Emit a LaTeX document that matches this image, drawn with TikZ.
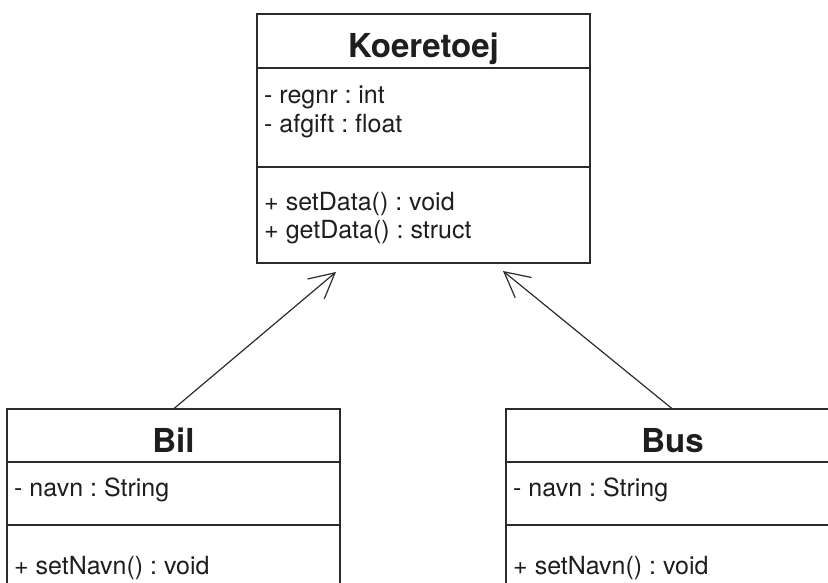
\documentclass[tikz,border=0pt]{standalone}
\usepackage{fontspec}
\setmainfont{TeX Gyre Heros}
\usetikzlibrary{arrows.meta}
\definecolor{umlline}{HTML}{2B2B2B}
\definecolor{umltext}{HTML}{1E1E1E}
\frenchspacing
\begin{document}
\begin{tikzpicture}[x=1pt,y=1pt,
  classbox/.style={draw=umlline, line width=1.6pt, fill=white, inner sep=0pt, outer sep=0pt, anchor=north west},
  divider/.style={draw=umlline, line width=1.6pt},
  classname/.style={font=\fontsize{33}{38}\selectfont\bfseries, text=umltext, inner sep=0pt, anchor=base},
  member/.style={font=\fontsize{25}{28}\selectfont, text=umltext, inner sep=0pt, anchor=base west},
  inherit/.style={draw=umlline, line width=1.2pt, -{Straight Barb[length=25pt,width=26pt]}}]
\useasboundingbox (0,0) rectangle (828,583);
\clip (0,0) rectangle (828,583);

% superclass
\node[classbox, minimum width=333pt, minimum height=249pt] (koer) at (257,569) {};
\draw[divider] ([yshift=-54pt]koer.north west) -- ([yshift=-54pt]koer.north east);
\draw[divider] ([yshift=-153pt]koer.north west) -- ([yshift=-153pt]koer.north east);
\node[classname] (koerName) at ([yshift=-44pt]koer.north) {Koeretoej};
\node[member] (koerA1) at ([xshift=7pt,yshift=-90pt]koer.north west) {- regnr : int};
\node[member] (koerA2) at ([xshift=7pt,yshift=-119pt]koer.north west) {- afgift : float};
\node[member] (koerM1) at ([xshift=7pt,yshift=-197pt]koer.north west) {+ setData() : void};
\node[member] (koerM2) at ([xshift=7pt,yshift=-225pt]koer.north west) {+ getData() : struct};

% subclass Bil
\node[classbox, minimum width=333pt, minimum height=200pt] (bil) at (7,174) {};
\draw[divider] ([yshift=-53pt]bil.north west) -- ([yshift=-53pt]bil.north east);
\draw[divider] ([yshift=-116pt]bil.north west) -- ([yshift=-116pt]bil.north east);
\node[classname] (bilName) at ([yshift=-44pt]bil.north) {Bil};
\node[member] (bilA1) at ([xshift=7pt,yshift=-88pt]bil.north west) {- navn : String};
\node[member] (bilM1) at ([xshift=7pt,yshift=-166pt]bil.north west) {+ setNavn() : void};

% subclass Bus
\node[classbox, minimum width=333pt, minimum height=200pt] (bus) at (506,174) {};
\draw[divider] ([yshift=-53pt]bus.north west) -- ([yshift=-53pt]bus.north east);
\draw[divider] ([yshift=-116pt]bus.north west) -- ([yshift=-116pt]bus.north east);
\node[classname] (busName) at ([yshift=-44pt]bus.north) {Bus};
\node[member] (busA1) at ([xshift=7pt,yshift=-88pt]bus.north west) {- navn : String};
\node[member] (busM1) at ([xshift=7pt,yshift=-166pt]bus.north west) {+ setNavn() : void};

% generalisation arrows
\coordinate (bilTip) at (336,311);
\coordinate (busTip) at (503,312);
\draw[inherit] (bil.north) -- (bilTip);
\draw[inherit] (bus.north) -- (busTip);
\end{tikzpicture}
\end{document}
